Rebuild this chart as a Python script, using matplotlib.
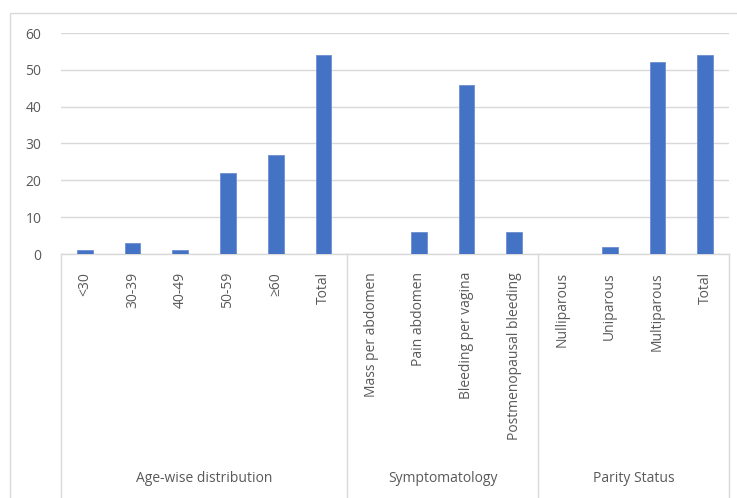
import matplotlib.pyplot as plt
from matplotlib.lines import Line2D
from matplotlib.patches import Rectangle

plt.rcParams['font.family'] = ['Open Sans', 'DejaVu Sans']

# Categories and counts, grouped as in the survey table
age_labels = ["<30", "30-39", "40-49", "50-59", "≥60", "Total"]
age_counts = [1, 3, 1, 22, 27, 54]

symptom_labels = ["Mass per abdomen", "Pain abdomen", "Bleeding per vagina",
                  "Postmenopausal bleeding"]
symptom_counts = [0, 6, 46, 6]

parity_labels = ["Nulliparous", "Uniparous", "Multiparous", "Total"]
parity_counts = [0, 2, 52, 54]

group_names = ["Age-wise distribution", "Symptomatology", "Parity Status"]
y_ticks = [0, 10, 20, 30, 40, 50, 60]

labels = age_labels + symptom_labels + parity_labels
counts = age_counts + symptom_counts + parity_counts
group_sizes = [len(age_labels), len(symptom_labels), len(parity_labels)]

text_color = "#595959"
line_color = "#d9d9d9"

W, H = 737, 498
fig = plt.figure(figsize=(W / 100, H / 100), dpi=100)

# chart outer border
fig.patches.append(Rectangle((10 / W, -0.01), 1.0, 1 - 13 / H + 0.01,
                             transform=fig.transFigure, fill=False,
                             edgecolor=line_color, linewidth=1.0))

ax_l, ax_r, ax_t, ax_b = 61, 729, 33, 254
ax = fig.add_axes([ax_l / W, 1 - ax_b / H, (ax_r - ax_l) / W, (ax_b - ax_t) / H])

x = list(range(len(labels)))
ax.bar(x, counts, width=0.33, color="#4472C4", edgecolor="#6d8fd0",
       linewidth=0.6, zorder=3)

ax.set_xlim(-0.5, len(labels) - 0.5)
ax.set_ylim(0, 60)
ax.set_yticks(y_ticks)
ax.set_yticklabels([str(t) for t in y_ticks], fontsize=10, color=text_color)
ax.tick_params(axis='y', length=0, pad=14)
ax.set_xticks([])
ax.grid(axis='y', color=line_color, linewidth=1.0, zorder=0)
for side in ['top', 'right', 'left']:
    ax.spines[side].set_visible(False)
ax.spines['bottom'].set_color(line_color)
ax.spines['bottom'].set_linewidth(1.0)

trans = ax.get_xaxis_transform()
px = 1.0 / (ax_b - ax_t)

# rotated category labels
for i, lab in enumerate(labels):
    ax.text(i, -18 * px, lab, transform=trans, rotation=90, ha='center',
            va='top', fontsize=10, color=text_color)

# group separators and group names
edges = [-0.5]
for n in group_sizes:
    edges.append(edges[-1] + n)
for e in edges:
    ax.add_line(Line2D([e, e], [0, -260 * px], transform=trans,
                       color=line_color, linewidth=1.0, clip_on=False))
for name, a, b in zip(group_names, edges[:-1], edges[1:]):
    ax.text((a + b) / 2, -224 * px, name, transform=trans, ha='center',
            va='center', fontsize=10, color=text_color)

fig.savefig("out.png", dpi=100)
